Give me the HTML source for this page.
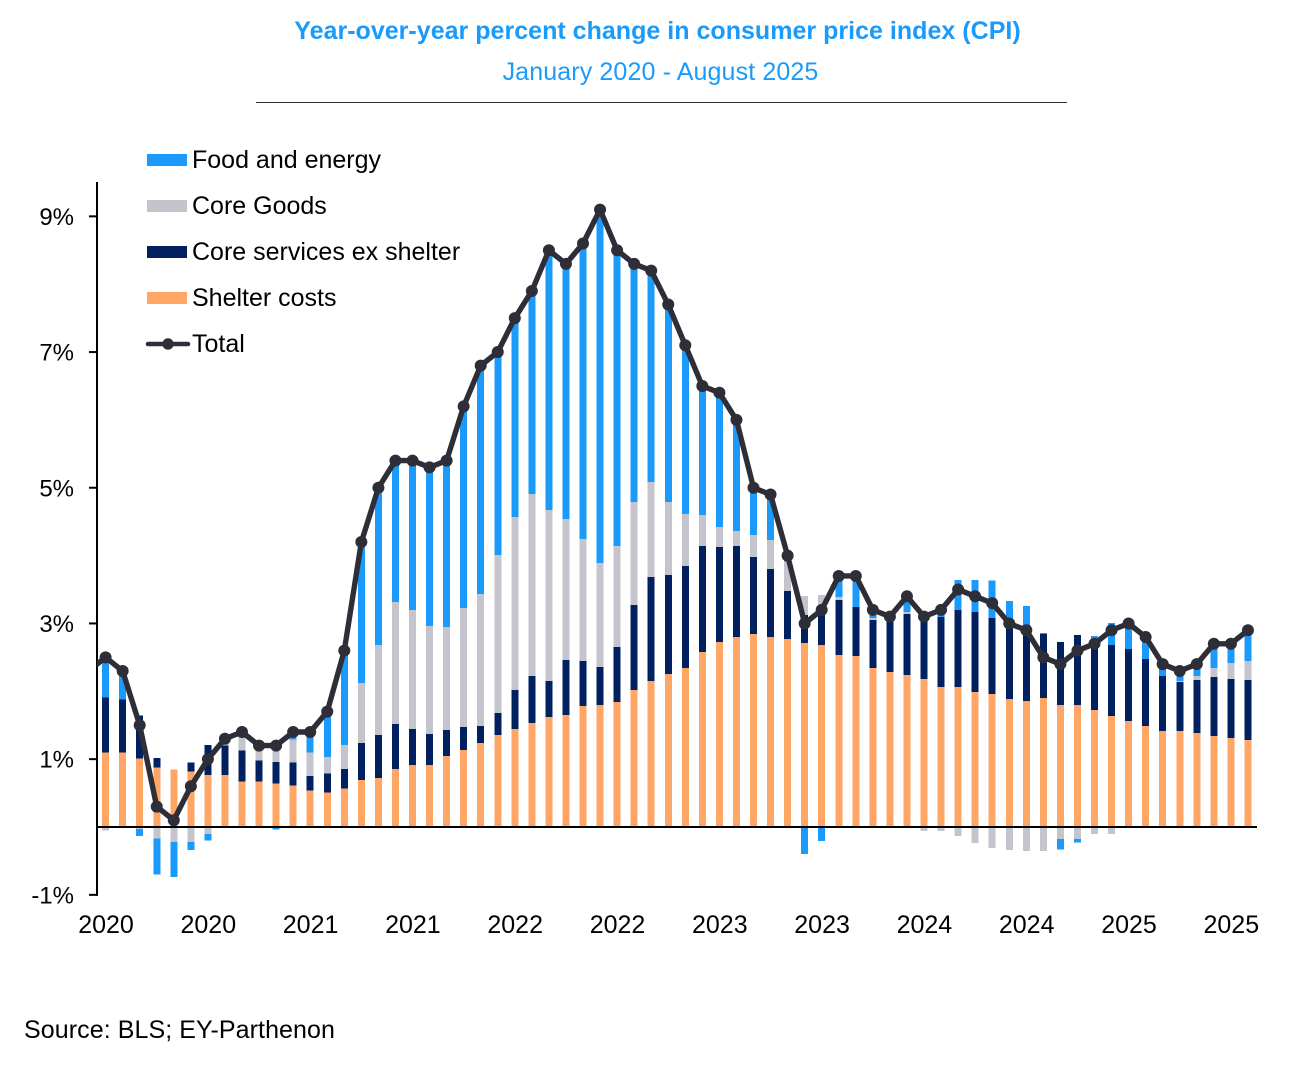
<!DOCTYPE html>
<html lang="en">
<head>
<meta charset="utf-8">
<title>Year-over-year percent change in CPI</title>
<style>
html,body{margin:0;padding:0;background:#fff;width:1315px;height:1074px;overflow:hidden}
svg{display:block}
text{font-family:"Liberation Sans",Arial,sans-serif;fill:#000;font-size:25px}
</style>
</head>
<body>
<svg id="chart" xmlns="http://www.w3.org/2000/svg" width="1315" height="1074" viewBox="0 0 1315 1074">
  <defs><clipPath id="plot-clip"><rect x="97" y="170" width="1170" height="740"/></clipPath></defs>
  <text x="657.5" y="39" text-anchor="middle" style="font-weight:bold;fill:#1a9afa;font-size:25px;letter-spacing:.02px">Year-over-year percent change in consumer price index (CPI)</text>
  <text x="660.5" y="80" text-anchor="middle" style="fill:#1a9afa;font-size:25px;letter-spacing:.12px">January 2020 - August 2025</text>
  <line x1="256" y1="102.5" x2="1067" y2="102.5" stroke="#2e2e38" stroke-width="1"/>
  <g id="bars"></g>
  <g id="axes"></g>
  <g id="line-layer" clip-path="url(#plot-clip)"></g>
  <g>
    <g>
      <rect x="147" y="154" width="40" height="12" fill="#1a9afa"/>
      <text x="192" y="168">Food and energy</text>
    </g>
    <g>
      <rect x="147" y="200" width="40" height="12" fill="#c4c4cd"/>
      <text x="192" y="214">Core Goods</text>
    </g>
    <g>
      <rect x="147" y="246" width="40" height="12" fill="#002060"/>
      <text x="192" y="260">Core services ex shelter</text>
    </g>
    <g>
      <rect x="147" y="292" width="40" height="12" fill="#ffa666"/>
      <text x="192" y="306">Shelter costs</text>
    </g>
    <g>
      <line x1="148" y1="344" x2="188" y2="344" stroke="#2e2e38" stroke-width="4.5" stroke-linecap="round"/>
      <circle cx="168" cy="344" r="5.7" fill="#2e2e38"/>
      <text x="192" y="352">Total</text>
    </g>
  </g>
  <text x="24" y="1038" style="letter-spacing:.08px">Source: BLS; EY-Parthenon</text>
</svg>
<script>
const shelter = [1.10,1.10,1.01,.875,.845,.82,.77,.77,.67,.67,.64,.61,.535,.505,.565,.695,.725,.855,.915,.915,1.05,1.135,1.24,1.355,1.445,1.535,1.62,1.65,1.785,1.80,1.84,2.02,2.15,2.255,2.345,2.58,2.73,2.80,2.845,2.80,2.77,2.71,2.68,2.535,2.52,2.345,2.285,2.24,2.18,2.065,2.065,1.99,1.96,1.885,1.855,1.90,1.80,1.80,1.725,1.635,1.565,1.49,1.415,1.415,1.385,1.34,1.31,1.285];
const services = [.81,.78,.63,.145,0,.13,.44,.43,.455,.31,.32,.34,.22,.28,.29,.54,.63,.66,.53,.455,.38,.34,.25,.325,.575,.69,.53,.81,.66,.56,.81,1.25,1.535,1.46,1.50,1.56,1.40,1.34,1.135,1.0,.71,.415,.445,.81,.725,.705,.815,.90,.98,1.03,1.135,1.18,1.12,1.065,1.125,.945,.93,1.03,.98,1.05,1.06,.985,.81,.72,.78,.87,.87,.88];
const goods = [-.05,0,-.03,-.17,-.22,-.22,-.10,.10,.2,.15,.25,.34,.34,.25,.355,.885,1.33,1.80,1.755,1.59,1.52,1.755,1.945,2.33,2.55,2.685,2.52,2.08,1.80,1.53,1.49,1.52,1.40,1.075,.77,.46,.29,.22,.325,.43,.43,.28,.295,.045,0,.03,0,.03,-.06,-.06,-.13,-.235,-.31,-.34,-.355,-.355,-.18,-.18,-.10,-.10,0,0,0,.015,.06,.135,.24,.28];
const food = [.62,.42,-.10,-.53,-.52,-.12,-.10,0,.07,.07,-.04,.12,.31,.62,1.39,2.08,2.32,2.08,2.2,2.34,2.45,2.97,3.37,2.99,2.93,2.99,3.83,3.76,4.355,5.21,4.36,3.51,3.11,2.91,2.49,1.90,1.98,1.64,.695,.67,.09,-.40,-.21,.30,.47,.045,0,.15,0,.03,.44,.47,.55,.38,.28,.015,-.15,-.045,.11,.325,.38,.35,.185,.19,.185,.355,.28,.455];
const total = [2.5,2.3,1.5,.3,.1,.6,1.0,1.3,1.4,1.2,1.2,1.4,1.4,1.7,2.6,4.2,5.0,5.4,5.4,5.3,5.4,6.2,6.8,7.0,7.5,7.9,8.5,8.3,8.6,9.1,8.5,8.3,8.2,7.7,7.1,6.5,6.4,6.0,5.0,4.9,4.0,3.0,3.2,3.7,3.7,3.2,3.1,3.4,3.1,3.2,3.5,3.4,3.3,3.0,2.9,2.5,2.4,2.6,2.7,2.9,3.0,2.8,2.4,2.3,2.4,2.7,2.7,2.9];
const priorTotal = 2.3;
const yTicks = [9,7,5,3,1,-1];
const yTickLabels = ["9%","7%","5%","3%","1%","-1%"];
const xTickMonths = [0,6,12,18,24,30,36,42,48,54,60,66];
const xTickLabels = ["2020","2020","2021","2021","2022","2022","2023","2023","2024","2024","2025","2025"];

const NS = 'http://www.w3.org/2000/svg';
function xScale(i){ return 105.6 + i * 17.05; }
function yScale(v){ return 827 - v * 67.85; }
function make(tag, attrs, parent){
  const el = document.createElementNS(NS, tag);
  for (const k in attrs) el.setAttribute(k, attrs[k]);
  parent.appendChild(el);
  return el;
}

const barsG = document.getElementById('bars');
const stackSeries = [
  { key: 'shelter', values: shelter, color: '#ffa666' },
  { key: 'services', values: services, color: '#002060' },
  { key: 'goods', values: goods, color: '#c4c4cd' },
  { key: 'food', values: food, color: '#1a9afa' }
];
total.forEach(function(_, i){
  let pos = 0, neg = 0;
  stackSeries.forEach(function(s){
    const v = s.values[i];
    if (!v) return;
    let a, b;
    if (v > 0) { a = pos; b = pos + v; pos = b; }
    else { a = neg; b = neg + v; neg = b; }
    const yTop = yScale(Math.max(a, b));
    const yBot = yScale(Math.min(a, b));
    const r = make('rect', { x: xScale(i) - 3.5, y: yTop, width: 7, height: yBot - yTop, fill: s.color, 'shape-rendering': 'crispEdges' }, barsG);
    
    
  });
});

const axes = document.getElementById('axes');
const yAxis = make('line', { x1: 97, y1: 182, x2: 97, y2: yScale(-1) + 1, stroke: '#000', 'stroke-width': 2 }, axes);


const xAxis = make('line', { x1: 97, y1: yScale(0), x2: 1257, y2: yScale(0), stroke: '#000', 'stroke-width': 2 }, axes);


yTicks.forEach(function(t, i){
  const y = yScale(t);
  const tick = make('line', { x1: 89, y1: y, x2: 97, y2: y, stroke: '#000', 'stroke-width': 2 }, axes);
  
  
  const lab = make('text', { x: 74, y: y + 8.5, 'text-anchor': 'end', style: 'font-size:24px' }, axes);
  
  
  lab.textContent = yTickLabels[i];
});
xTickMonths.forEach(function(m, i){
  const lab = make('text', { x: xScale(m) + 0.4, y: 933, 'text-anchor': 'middle' }, axes);
  
  
  lab.textContent = xTickLabels[i];
});

const lineG = document.getElementById('line-layer');
const pts = [[xScale(-1), yScale(priorTotal)]].concat(total.map(function(v, i){ return [xScale(i), yScale(v)]; }));
const path = make('path', { d: 'M' + pts.map(function(p){ return p[0].toFixed(2) + ',' + p[1].toFixed(2); }).join('L'), fill: 'none', stroke: '#2e2e38', 'stroke-width': 5.4, 'stroke-linejoin': 'round' }, lineG);


total.forEach(function(v, i){
  const c = make('circle', { cx: xScale(i), cy: yScale(v), r: 6, fill: '#2e2e38' }, lineG);
  
  
});
</script>
</body>
</html>
